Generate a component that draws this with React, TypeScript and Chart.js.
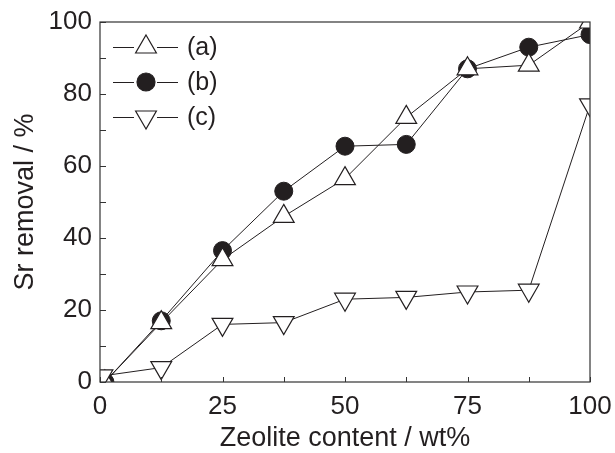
import React, { useEffect, useRef } from "react";
import { Chart, registerables } from "chart.js";

Chart.register(...registerables);

const xA = [1, 12.5, 25, 37.5, 50, 62.5, 75, 87.5, 100];
const seriesA = [0, 16.5, 34, 46, 56.5, 73.5, 87, 88, 100];
const seriesB = [0, 17, 36.5, 53, 65.5, 66, 87, 93, 96.5];
const xC = [0.5, 12.5, 25, 37.5, 50, 62.5, 75, 87.5, 100];
const seriesC = [1.7, 4, 16, 16.5, 23, 23.5, 25, 25.5, 77];
const legendLabels = ["(a)", "(b)", "(c)"];
const xTitle = "Zeolite content / wt%";
const yTitle = "Sr removal / %";

const FONT = "'Liberation Sans', Arial, Helvetica, sans-serif";
const INK = "#231f20";

function drawMarker(ctx: CanvasRenderingContext2D, style: string, r: number, rot: number, x: number, y: number) {
  ctx.beginPath();
  if (style === "circle") {
    ctx.arc(x, y, r, 0, Math.PI * 2);
  } else {
    let rad = (rot * Math.PI) / 180;
    ctx.moveTo(x + Math.sin(rad) * r, y - Math.cos(rad) * r);
    rad += (2 * Math.PI) / 3;
    ctx.lineTo(x + Math.sin(rad) * r, y - Math.cos(rad) * r);
    rad += (2 * Math.PI) / 3;
    ctx.lineTo(x + Math.sin(rad) * r, y - Math.cos(rad) * r);
    ctx.closePath();
  }
  ctx.fill();
  ctx.stroke();
}

const framePlugin = {
  id: "frame",
  afterDatasetsDraw(chart: any) {
    const { ctx, chartArea } = chart;
    const { left, right, top, bottom } = chartArea;
    const xs = chart.scales.x;
    const ys = chart.scales.y;
    ctx.save();
    ctx.strokeStyle = "#333";
    ctx.lineWidth = 1.2;
    ctx.strokeRect(left, top, right - left, bottom - top);
    ctx.lineWidth = 1;
    ctx.beginPath();
    xs.ticks.forEach((t: any) => {
      const px = Math.round(xs.getPixelForValue(t.value)) + 0.5;
      ctx.moveTo(px, bottom);
      ctx.lineTo(px, bottom - 5);
    });
    ys.ticks.forEach((t: any) => {
      const py = Math.round(ys.getPixelForValue(t.value)) + 0.5;
      ctx.moveTo(left, py);
      ctx.lineTo(left + 6, py);
    });
    ctx.stroke();

    // legend
    const rows = [47, 82, 117];
    const styles: any[] = [
      { style: "triangle", r: 12, rot: 0, fill: "#fff" },
      { style: "circle", r: 9, rot: 0, fill: INK },
      { style: "triangle", r: 12, rot: 180, fill: "#fff" },
    ];
    rows.forEach((y, i) => {
      ctx.strokeStyle = INK;
      ctx.lineWidth = 1;
      ctx.beginPath();
      ctx.moveTo(113, y + 0.5);
      ctx.lineTo(134, y + 0.5);
      ctx.moveTo(157, y + 0.5);
      ctx.lineTo(178, y + 0.5);
      ctx.stroke();
      const s = styles[i];
      ctx.fillStyle = s.fill;
      ctx.strokeStyle = INK;
      ctx.lineWidth = 1.2;
      drawMarker(ctx, s.style, s.r, s.rot, 146, y);
      ctx.fillStyle = INK;
      ctx.font = `25px ${FONT}`;
      ctx.textBaseline = "middle";
      ctx.textAlign = "left";
      ctx.fillText(legendLabels[i], 187, y + 1);
    });
    ctx.restore();
  },
};

export default function App() {
  const ref = useRef<HTMLCanvasElement | null>(null);
  useEffect(() => {
    if (!ref.current) return;
    const toPts = (xs: number[], ys: number[]) => xs.map((x, i) => ({ x, y: ys[i] }));
    const chart = new Chart(ref.current, {
      type: "line",
      data: {
        datasets: [
          {
            label: legendLabels[2],
            data: toPts(xC, seriesC),
            borderColor: INK,
            borderWidth: 1,
            pointStyle: "triangle",
            pointRotation: 180,
            pointRadius: 12,
            pointBorderWidth: 1.2,
            pointBackgroundColor: "#fff",
            pointBorderColor: INK,
          },
          {
            label: legendLabels[0],
            data: toPts(xA, seriesA),
            borderColor: INK,
            borderWidth: 1,
            pointStyle: "triangle",
            pointRadius: 12,
            pointBorderWidth: 1.2,
            pointBackgroundColor: "#fff",
            pointBorderColor: INK,
          },
          {
            label: legendLabels[1],
            data: toPts(xA, seriesB),
            borderColor: INK,
            borderWidth: 1,
            pointStyle: "circle",
            pointRadius: 9,
            pointBorderWidth: 1,
            pointBackgroundColor: INK,
            pointBorderColor: INK,
          },
        ],
      },
      options: {
        animation: false,
        responsive: false,
        maintainAspectRatio: false,
        layout: { padding: { top: 22, right: 25, left: 0, bottom: 0 } },
        plugins: { legend: { display: false }, tooltip: { enabled: false } },
        scales: {
          x: {
            type: "linear",
            min: 0,
            max: 100,
            border: { display: false },
            grid: { display: false, drawTicks: false },
            ticks: {
              stepSize: 12.5,
              autoSkip: false,
              maxRotation: 0,
              padding: 9,
              color: INK,
              font: { family: FONT, size: 26 },
              callback: (v: any) => (Number(v) % 25 === 0 ? String(v) : ""),
            },
            title: {
              display: true,
              text: xTitle,
              color: INK,
              font: { family: FONT, size: 27, lineHeight: 1 },
              padding: { top: 0, bottom: 1 },
            },
            afterFit: (s: any) => {
              s.height = 71;
              s.paddingLeft = 0;
              s.paddingRight = 0;
            },
          },
          y: {
            min: 0,
            max: 100,
            border: { display: false },
            grid: { display: false, drawTicks: false },
            ticks: {
              stepSize: 10,
              autoSkip: false,
              padding: 8,
              color: INK,
              font: { family: FONT, size: 26 },
              callback: (v: any) => (Number(v) % 20 === 0 ? String(v) : ""),
            },
            title: {
              display: true,
              text: yTitle,
              color: INK,
              font: { family: FONT, size: 27, lineHeight: 1 },
              padding: { top: 12, bottom: 0 },
            },
            afterFit: (s: any) => {
              s.width = 100;
              s.paddingTop = 0;
              s.paddingBottom = 0;
            },
          },
        },
      } as any,
      plugins: [framePlugin],
    });
    return () => chart.destroy();
  }, []);
  return (
    <div style={{ position: "fixed", left: 0, top: 0, width: 615, height: 453, background: "#fff" }}>
      <canvas ref={ref} width={615} height={453} style={{ display: "block" }} />
    </div>
  );
}
